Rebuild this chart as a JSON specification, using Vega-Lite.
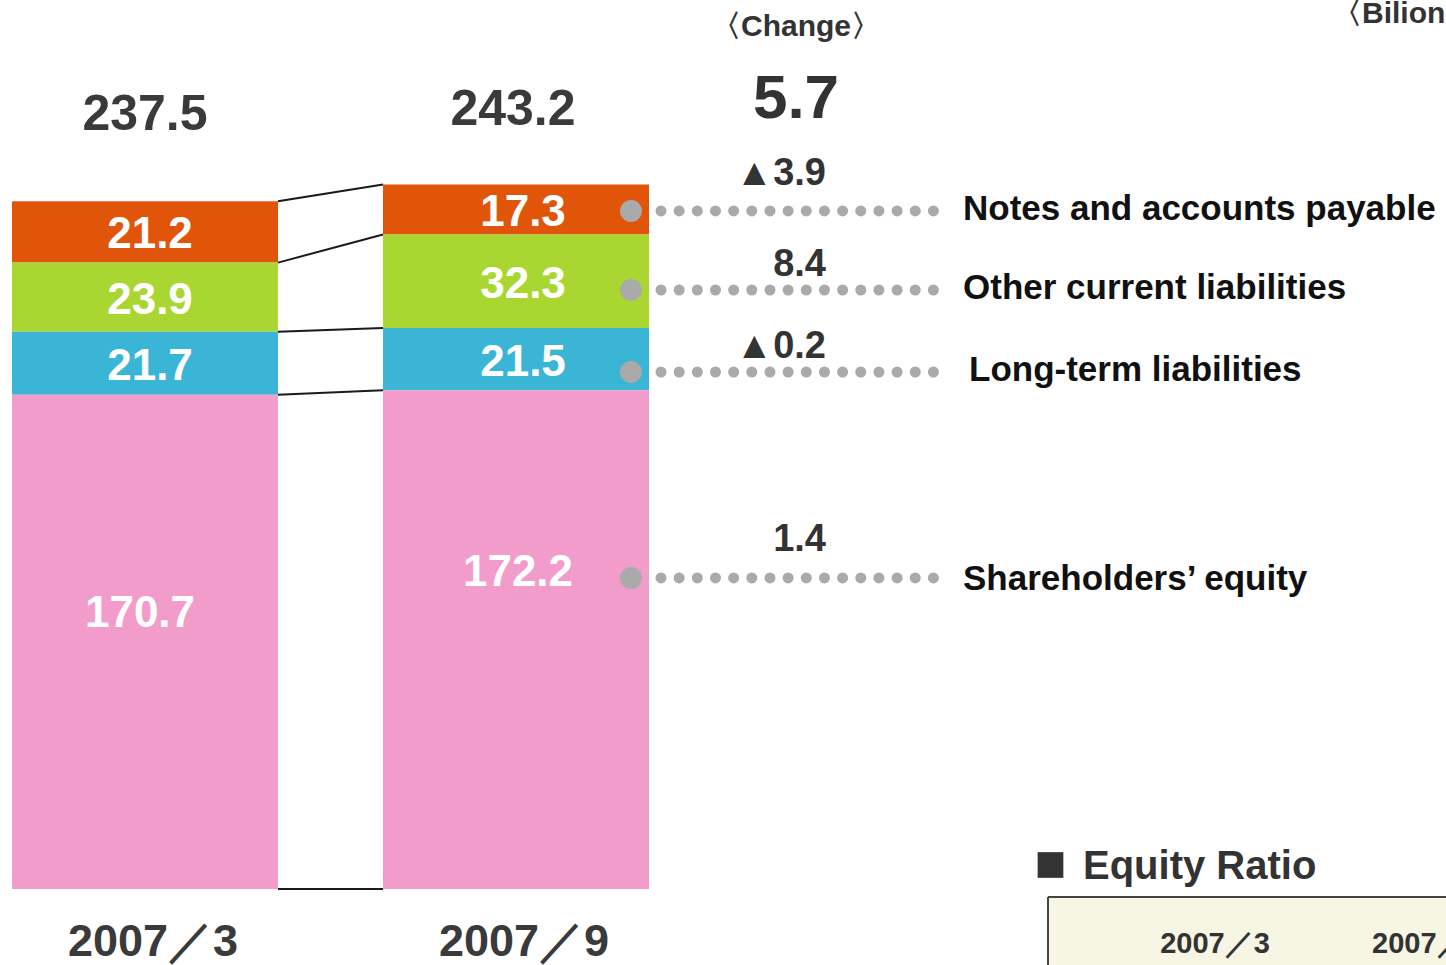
{
  "$schema": "https://vega.github.io/schema/vega-lite/v6.json",
  "width": 1446,
  "height": 965,
  "autosize": {"type": "none"},
  "padding": 0,
  "background": "white",
  "config": {"view": {"stroke": null}, "font": "Liberation Sans", "text": {"fontWeight": "bold"}},
  "datasets": {
    "balance": [
      {"period": "2007／3", "segment": "Notes and accounts payable", "order": 4, "value": 21.2},
      {"period": "2007／3", "segment": "Other current liabilities", "order": 3, "value": 23.9},
      {"period": "2007／3", "segment": "Long-term liabilities", "order": 2, "value": 21.7},
      {"period": "2007／3", "segment": "Shareholders’ equity", "order": 1, "value": 170.7},
      {"period": "2007／9", "segment": "Notes and accounts payable", "order": 4, "value": 17.3},
      {"period": "2007／9", "segment": "Other current liabilities", "order": 3, "value": 32.3},
      {"period": "2007／9", "segment": "Long-term liabilities", "order": 2, "value": 21.5},
      {"period": "2007／9", "segment": "Shareholders’ equity", "order": 1, "value": 172.2}
    ],
    "totals": [
      {"period": "2007／3", "total": 237.5},
      {"period": "2007／9", "total": 243.2}
    ],
    "changes": [
      {"segment": "Notes and accounts payable", "change": "▲3.9"},
      {"segment": "Other current liabilities", "change": "8.4"},
      {"segment": "Long-term liabilities", "change": "▲0.2"},
      {"segment": "Shareholders’ equity", "change": "1.4"}
    ],
    "summary": [
      {"totalChange": 5.7}
    ]
  },
  "resolve": {"scale": {"x": "independent"}},
  "layer": [
    {
      "layer": [
        {
          "data": {"name": "balance"},
          "transform": [
            {"stack": "value", "groupby": ["period"], "sort": [{"field": "order", "order": "ascending"}], "as": ["lo", "hi"]}
          ],
          "mark": {"type": "bar"},
          "encoding": {
            "x": {"field": "period", "type": "nominal", "scale": {"type": "band", "domain": ["2007／3", "2007／9"], "range": [12, 649], "paddingInner": 0.283, "paddingOuter": 0}, "axis": null},
            "y": {"field": "lo", "type": "quantitative", "scale": {"domain": [-26.24, 306.98], "nice": false, "zero": false}, "axis": null},
            "y2": {"field": "hi"},
            "color": {"field": "segment", "type": "nominal", "scale": {"domain": ["Notes and accounts payable", "Other current liabilities", "Long-term liabilities", "Shareholders’ equity"], "range": ["#E1550A", "#AAD632", "#3AB5D6", "#F29CCC"]}, "legend": null}
          }
        },
        {
          "data": {"name": "balance"},
          "transform": [
            {"stack": "value", "groupby": ["period"], "sort": [{"field": "order", "order": "ascending"}], "as": ["lo", "hi"]},
            {"fold": ["lo", "hi"], "as": ["edge", "pos"]},
            {"aggregate": [{"op": "mean", "field": "pos", "as": "mid"}], "groupby": ["period", "segment", "order", "value"]}
          ],
          "mark": {
            "type": "text", "color": "white", "fontSize": 44, "fontWeight": "bold", "align": "center", "baseline": "middle",
            "dx": {"expr": "datum.order==1 ? (datum.period=='2007／3' ? -5 : 2) : (datum.period=='2007／3' ? 5 : 7)"},
            "dy": {"expr": "datum.order==1 ? (datum.period=='2007／3' ? -28 : -67) : 3.5"}
          },
          "encoding": {
            "x": {"field": "period", "type": "nominal", "scale": {"type": "band", "domain": ["2007／3", "2007／9"], "range": [12, 649], "paddingInner": 0.283, "paddingOuter": 0}, "axis": null},
            "y": {"field": "mid", "type": "quantitative", "scale": {"domain": [-26.24, 306.98], "nice": false, "zero": false}, "axis": null},
            "text": {"field": "value", "type": "quantitative", "format": ".1f"}
          }
        },
        {
          "data": {"name": "totals"},
          "mark": {
            "type": "text", "color": "#3a3a3a", "fontSize": 50, "fontWeight": "bold", "align": "center", "baseline": "middle",
            "dx": {"expr": "datum.period=='2007／3' ? 0 : -3"},
            "dy": {"expr": "datum.period=='2007／3' ? -86 : -75"}
          },
          "encoding": {
            "x": {"field": "period", "type": "nominal", "scale": {"type": "band", "domain": ["2007／3", "2007／9"], "range": [12, 649], "paddingInner": 0.283, "paddingOuter": 0}, "axis": null},
            "y": {"field": "total", "type": "quantitative", "scale": {"domain": [-26.24, 306.98], "nice": false, "zero": false}, "axis": null},
            "text": {"field": "total", "type": "quantitative", "format": ".1f"}
          }
        },
        {
          "data": {"name": "totals"},
          "mark": {"type": "text", "color": "#3a3a3a", "fontSize": 45, "fontWeight": "bold", "align": "center", "baseline": "alphabetic", "dx": 8},
          "encoding": {
            "x": {"field": "period", "type": "nominal", "scale": {"type": "band", "domain": ["2007／3", "2007／9"], "range": [12, 649], "paddingInner": 0.283, "paddingOuter": 0}, "axis": null},
            "y": {"datum": -23.1, "type": "quantitative", "scale": {"domain": [-26.24, 306.98], "nice": false, "zero": false}, "axis": null},
            "text": {"field": "period", "type": "nominal"}
          }
        }
      ]
    },
    {
      "layer": [
        {
          "data": {"name": "balance"},
          "transform": [
            {"stack": "value", "groupby": ["period"], "sort": [{"field": "order", "order": "ascending"}], "as": ["lo", "hi"]},
            {"pivot": "period", "value": "hi", "groupby": ["segment"]}
          ],
          "mark": {"type": "rule", "color": "#1a1a1a", "strokeWidth": 2},
          "encoding": {
            "x": {"datum": 278, "type": "quantitative", "scale": {"domain": [0, 1446], "nice": false, "zero": false}, "axis": null},
            "x2": {"datum": 383},
            "y": {"field": "2007／3", "type": "quantitative", "scale": {"domain": [-26.24, 306.98], "nice": false, "zero": false}, "axis": null},
            "y2": {"field": "2007／9"}
          }
        },
        {
          "data": {"values": [{}]},
          "mark": {"type": "rule", "color": "#1a1a1a", "strokeWidth": 2},
          "encoding": {
            "x": {"datum": 278, "type": "quantitative", "scale": {"domain": [0, 1446], "nice": false, "zero": false}, "axis": null},
            "x2": {"datum": 383},
            "y": {"datum": 0, "type": "quantitative", "scale": {"domain": [-26.24, 306.98], "nice": false, "zero": false}, "axis": null}
          }
        },
        {
          "data": {"name": "balance"},
          "transform": [
            {"stack": "value", "groupby": ["period"], "sort": [{"field": "order", "order": "ascending"}], "as": ["lo", "hi"]},
            {"fold": ["lo", "hi"], "as": ["edge", "pos"]},
            {"aggregate": [{"op": "mean", "field": "pos", "as": "mid"}], "groupby": ["period", "segment", "order", "value"]},
            {"filter": "datum.period=='2007／9'"}
          ],
          "mark": {
            "type": "rule", "color": "#aaaaaa", "strokeWidth": 11, "strokeCap": "round", "strokeDash": [0.01, 18.15],
            "yOffset": {"expr": "datum.order==4 ? 1.5 : datum.order==3 ? 8.7 : datum.order==2 ? 12.8 : -61.7"}
          },
          "encoding": {
            "x": {"datum": 661, "type": "quantitative", "scale": {"domain": [0, 1446], "nice": false, "zero": false}, "axis": null},
            "x2": {"datum": 934},
            "y": {"field": "mid", "type": "quantitative", "scale": {"domain": [-26.24, 306.98], "nice": false, "zero": false}, "axis": null}
          }
        },
        {
          "data": {"name": "balance"},
          "transform": [
            {"stack": "value", "groupby": ["period"], "sort": [{"field": "order", "order": "ascending"}], "as": ["lo", "hi"]},
            {"fold": ["lo", "hi"], "as": ["edge", "pos"]},
            {"aggregate": [{"op": "mean", "field": "pos", "as": "mid"}], "groupby": ["period", "segment", "order", "value"]},
            {"filter": "datum.period=='2007／9'"}
          ],
          "mark": {
            "type": "point", "shape": "circle", "filled": true, "size": 480, "color": "#aaaaaa", "opacity": 1,
            "yOffset": {"expr": "datum.order==4 ? 1.5 : datum.order==3 ? 8.7 : datum.order==2 ? 12.8 : -61.7"}
          },
          "encoding": {
            "x": {"datum": 631, "type": "quantitative", "scale": {"domain": [0, 1446], "nice": false, "zero": false}, "axis": null},
            "y": {"field": "mid", "type": "quantitative", "scale": {"domain": [-26.24, 306.98], "nice": false, "zero": false}, "axis": null}
          }
        },
        {
          "data": {"name": "balance"},
          "transform": [
            {"stack": "value", "groupby": ["period"], "sort": [{"field": "order", "order": "ascending"}], "as": ["lo", "hi"]},
            {"fold": ["lo", "hi"], "as": ["edge", "pos"]},
            {"aggregate": [{"op": "mean", "field": "pos", "as": "mid"}], "groupby": ["period", "segment", "order", "value"]},
            {"filter": "datum.period=='2007／9'"},
            {"lookup": "segment", "from": {"data": {"name": "changes"}, "key": "segment", "fields": ["change"]}}
          ],
          "mark": {
            "type": "text", "color": "#333333", "fontSize": 38, "fontWeight": "bold", "align": "right", "baseline": "middle",
            "dy": {"expr": "datum.order==4 ? -35.3 : datum.order==3 ? -16.6 : datum.order==2 ? -12 : -100"}
          },
          "encoding": {
            "x": {"datum": 826, "type": "quantitative", "scale": {"domain": [0, 1446], "nice": false, "zero": false}, "axis": null},
            "y": {"field": "mid", "type": "quantitative", "scale": {"domain": [-26.24, 306.98], "nice": false, "zero": false}, "axis": null},
            "text": {"field": "change", "type": "nominal"}
          }
        },
        {
          "data": {"name": "balance"},
          "transform": [
            {"stack": "value", "groupby": ["period"], "sort": [{"field": "order", "order": "ascending"}], "as": ["lo", "hi"]},
            {"fold": ["lo", "hi"], "as": ["edge", "pos"]},
            {"aggregate": [{"op": "mean", "field": "pos", "as": "mid"}], "groupby": ["period", "segment", "order", "value"]},
            {"filter": "datum.period=='2007／9'"}
          ],
          "mark": {
            "type": "text", "color": "#111111", "fontSize": 35, "fontWeight": "bold", "align": "left", "baseline": "middle",
            "dx": {"expr": "datum.order==2 ? 6 : 0"},
            "dy": {"expr": "datum.order==4 ? -0.5 : datum.order==3 ? 6.7 : datum.order==2 ? 10.8 : -60.7"}
          },
          "encoding": {
            "x": {"datum": 963, "type": "quantitative", "scale": {"domain": [0, 1446], "nice": false, "zero": false}, "axis": null},
            "y": {"field": "mid", "type": "quantitative", "scale": {"domain": [-26.24, 306.98], "nice": false, "zero": false}, "axis": null},
            "text": {"field": "segment", "type": "nominal"}
          }
        },
        {
          "data": {"values": [{}]},
          "mark": {"type": "text", "text": "〈Change〉", "color": "#333333", "fontSize": 30, "fontWeight": "bold", "align": "center", "baseline": "middle"},
          "encoding": {
            "x": {"datum": 796, "type": "quantitative", "scale": {"domain": [0, 1446], "nice": false, "zero": false}, "axis": null},
            "y": {"datum": 297.5, "type": "quantitative", "scale": {"domain": [-26.24, 306.98], "nice": false, "zero": false}, "axis": null}
          }
        },
        {
          "data": {"name": "summary"},
          "mark": {"type": "text", "color": "#333333", "fontSize": 62, "fontWeight": "bold", "align": "center", "baseline": "middle"},
          "encoding": {
            "x": {"datum": 796, "type": "quantitative", "scale": {"domain": [0, 1446], "nice": false, "zero": false}, "axis": null},
            "y": {"datum": 272.9, "type": "quantitative", "scale": {"domain": [-26.24, 306.98], "nice": false, "zero": false}, "axis": null},
            "text": {"field": "totalChange", "type": "quantitative", "format": ".1f"}
          }
        },
        {
          "data": {"values": [{}]},
          "mark": {"type": "text", "text": "〈Bilion yen〉", "color": "#333333", "fontSize": 30, "fontWeight": "bold", "align": "left", "baseline": "middle"},
          "encoding": {
            "x": {"datum": 1332, "type": "quantitative", "scale": {"domain": [0, 1446], "nice": false, "zero": false}, "axis": null},
            "y": {"datum": 302.2, "type": "quantitative", "scale": {"domain": [-26.24, 306.98], "nice": false, "zero": false}, "axis": null}
          }
        },
        {
          "data": {"values": [{}]},
          "mark": {"type": "point", "shape": "square", "filled": true, "size": 660, "color": "#333333", "opacity": 1},
          "encoding": {
            "x": {"datum": 1050.5, "type": "quantitative", "scale": {"domain": [0, 1446], "nice": false, "zero": false}, "axis": null},
            "y": {"datum": 8.29, "type": "quantitative", "scale": {"domain": [-26.24, 306.98], "nice": false, "zero": false}, "axis": null}
          }
        },
        {
          "data": {"values": [{}]},
          "mark": {"type": "text", "text": "Equity Ratio", "color": "#333333", "fontSize": 40, "fontWeight": "bold", "align": "left", "baseline": "middle"},
          "encoding": {
            "x": {"datum": 1083, "type": "quantitative", "scale": {"domain": [0, 1446], "nice": false, "zero": false}, "axis": null},
            "y": {"datum": 7.5, "type": "quantitative", "scale": {"domain": [-26.24, 306.98], "nice": false, "zero": false}, "axis": null}
          }
        },
        {
          "data": {"values": [{}]},
          "mark": {"type": "rect", "color": "#F7F5E3"},
          "encoding": {
            "x": {"datum": 1048, "type": "quantitative", "scale": {"domain": [0, 1446], "nice": false, "zero": false}, "axis": null},
            "x2": {"datum": 1446},
            "y": {"datum": -2.76, "type": "quantitative", "scale": {"domain": [-26.24, 306.98], "nice": false, "zero": false}, "axis": null},
            "y2": {"datum": -26.24}
          }
        },
        {
          "data": {"values": [{}]},
          "mark": {"type": "rule", "color": "#444444", "strokeWidth": 2},
          "encoding": {
            "x": {"datum": 1048, "type": "quantitative", "scale": {"domain": [0, 1446], "nice": false, "zero": false}, "axis": null},
            "x2": {"datum": 1446},
            "y": {"datum": -2.76, "type": "quantitative", "scale": {"domain": [-26.24, 306.98], "nice": false, "zero": false}, "axis": null}
          }
        },
        {
          "data": {"values": [{}]},
          "mark": {"type": "rule", "color": "#444444", "strokeWidth": 2},
          "encoding": {
            "x": {"datum": 1048, "type": "quantitative", "scale": {"domain": [0, 1446], "nice": false, "zero": false}, "axis": null},
            "y": {"datum": -2.76, "type": "quantitative", "scale": {"domain": [-26.24, 306.98], "nice": false, "zero": false}, "axis": null},
            "y2": {"datum": -26.24}
          }
        },
        {
          "data": {"values": [{}]},
          "mark": {"type": "text", "text": "2007／3", "color": "#333333", "fontSize": 29, "fontWeight": "bold", "align": "center", "baseline": "middle"},
          "encoding": {
            "x": {"datum": 1215, "type": "quantitative", "scale": {"domain": [0, 1446], "nice": false, "zero": false}, "axis": null},
            "y": {"datum": -18.9, "type": "quantitative", "scale": {"domain": [-26.24, 306.98], "nice": false, "zero": false}, "axis": null}
          }
        },
        {
          "data": {"values": [{}]},
          "mark": {"type": "text", "text": "2007／9", "color": "#333333", "fontSize": 29, "fontWeight": "bold", "align": "left", "baseline": "middle"},
          "encoding": {
            "x": {"datum": 1372, "type": "quantitative", "scale": {"domain": [0, 1446], "nice": false, "zero": false}, "axis": null},
            "y": {"datum": -18.9, "type": "quantitative", "scale": {"domain": [-26.24, 306.98], "nice": false, "zero": false}, "axis": null}
          }
        }
      ]
    }
  ]
}
